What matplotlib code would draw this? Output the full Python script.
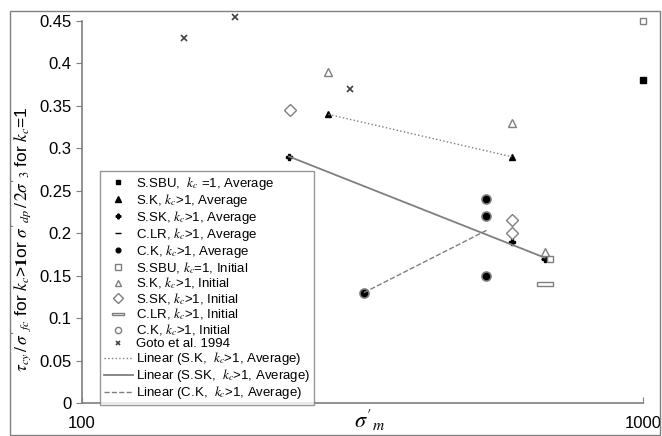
import numpy as np
import matplotlib
matplotlib.use("Agg")
import matplotlib.pyplot as plt
from matplotlib.patches import Rectangle

plt.rcParams['font.family'] = ['Liberation Sans', 'DejaVu Sans']
plt.rcParams['mathtext.fontset'] = 'stix'

# stress (x) and normalised strength (y) for each series
ssbu_avg_x = [1000]
ssbu_avg_y = [0.38]
sk_avg_x = [275, 584]
sk_avg_y = [0.34, 0.29]
ssk_avg_x = [234, 584, 584, 668]
ssk_avg_y = [0.29, 0.20, 0.19, 0.17]
clr_avg_x = [668]
clr_avg_y = [0.17]
ck_avg_x = [318, 526, 526, 526]
ck_avg_y = [0.13, 0.24, 0.22, 0.15]
ssbu_ini_x = [1000, 682]
ssbu_ini_y = [0.45, 0.17]
sk_ini_x = [275, 584, 668]
sk_ini_y = [0.39, 0.33, 0.178]
ssk_ini_x = [235, 584, 584]
ssk_ini_y = [0.345, 0.216, 0.20]
clr_ini_x = [668]
clr_ini_y = [0.14]
ck_ini_x = [318, 526, 526, 526]
ck_ini_y = [0.13, 0.24, 0.22, 0.15]
goto_x = [152, 187, 300]
goto_y = [0.43, 0.455, 0.37]

fig = plt.figure(figsize=(6.62, 4.36), dpi=100)
fig.patches.append(Rectangle((10 / 662, 1 / 436), 650 / 662, 424 / 436, transform=fig.transFigure,
                             fill=False, edgecolor='#808080', linewidth=1.0))
ax = fig.add_axes([82 / 662, 33 / 436, 561 / 662, 382 / 436])

gray = '#7f7f7f'
wide_rect = [(-1.6, -0.4), (1.6, -0.4), (1.6, 0.4), (-1.6, 0.4), (-1.6, -0.4)]

ax.plot(ssbu_avg_x, ssbu_avg_y, 's', color='black', ms=4.5, ls='none', clip_on=False,
        label=r'S.SBU,  $k_c$ =1, Average')
ax.plot(sk_avg_x, sk_avg_y, '^', color='black', ms=5, ls='none', label=r'S.K, $k_c$>1, Average')
ax.plot(ssk_avg_x, ssk_avg_y, 'P', color='black', ms=4.5, ls='none', label=r'S.SK, $k_c$>1, Average')
ax.plot(clr_avg_x, clr_avg_y, '_', color='black', ms=6, ls='none', label=r'C.LR, $k_c$>1, Average')
ax.plot(ck_ini_x, ck_ini_y, 'o', mfc='white', mec=gray, ms=6.5, mew=1.2, ls='none')
ax.plot(ck_avg_x, ck_avg_y, 'o', color='black', ms=4.5, ls='none', label=r'C.K, $k_c$>1, Average')
ax.plot(ssbu_ini_x, ssbu_ini_y, 's', mfc='white', mec=gray, ms=5, ls='none', clip_on=False,
        label=r'S.SBU, $k_c$=1, Initial')
ax.plot(sk_ini_x, sk_ini_y, '^', mfc='white', mec=gray, ms=6, ls='none', label=r'S.K, $k_c$>1, Initial')
ax.plot(ssk_ini_x, ssk_ini_y, 'D', mfc='white', mec=gray, ms=6.5, ls='none', label=r'S.SK, $k_c$>1, Initial')
ax.plot(clr_ini_x, clr_ini_y, marker=wide_rect, mfc='white', mec=gray, ms=11, ls='none',
        label=r'C.LR, $k_c$>1, Initial')
ax.plot([], [], 'o', mfc='white', mec=gray, ms=6, ls='none', label=r'C.K, $k_c$>1, Initial')
ax.plot(goto_x, goto_y, 'x', color='#404040', ms=4.5, mew=1.2, ls='none', clip_on=False,
        label='Goto et al. 1994')

# linear trend lines through the averaged series
for xs, ys, style, lw, name in [
        (sk_avg_x, sk_avg_y, ':', 1.0, r'Linear (S.K,  $k_c$>1, Average)'),
        (ssk_avg_x, ssk_avg_y, '-', 1.3, r'Linear (S.SK,  $k_c$>1, Average)'),
        (ck_avg_x, ck_avg_y, '--', 1.0, r'Linear (C.K,  $k_c$>1, Average)')]:
    k, b = np.polyfit(xs, ys, 1)
    tx = np.array([min(xs), max(xs)])
    ax.plot(tx, k * tx + b, ls=style, color=gray, lw=lw, label=name)

ax.set_xscale('log')
ax.set_xlim(100, 1000)
ax.set_ylim(0, 0.45)
ax.set_yticks(np.arange(0, 0.451, 0.05))
ax.set_yticklabels(['0', '0.05', '0.1', '0.15', '0.2', '0.25', '0.3', '0.35', '0.4', '0.45'])
ax.set_xticks([100, 1000])
ax.set_xticklabels(['100', '1000'])
ax.minorticks_off()
ax.tick_params(axis='both', labelsize=12, color=gray, length=4)
ax.tick_params(axis='x', direction='in', pad=9)
for side in ['top', 'right']:
    ax.spines[side].set_visible(False)
for side in ['left', 'bottom']:
    ax.spines[side].set_color(gray)
    ax.spines[side].set_linewidth(1.2)

ax.set_xlabel(r"$\sigma'_m$", fontsize=16)
ax.xaxis.set_label_coords(0.513, -0.045)
ax.xaxis.label.set_va('center')
ax.set_ylabel(r"$\tau_{cy}\,/\,\sigma'_{fc}$ for $k_c$>$\mathbf{1}$or $\sigma'_{dp}\,/\,2\sigma'_3$ for $k_c$=1",
              fontsize=12.5, va='center')
ax.yaxis.set_label_coords(-0.107, 0.43)

leg = ax.legend(loc='upper left', bbox_to_anchor=(100 / 662, 265 / 436), bbox_transform=fig.transFigure,
                fontsize=9.5, frameon=True, fancybox=False, edgecolor=gray, borderaxespad=0,
                handlelength=2.2, handletextpad=0.2, labelspacing=0.0, borderpad=0.3, markerscale=0.75)
leg.get_frame().set_linewidth(1.0)

fig.savefig('out.png', dpi=100)
